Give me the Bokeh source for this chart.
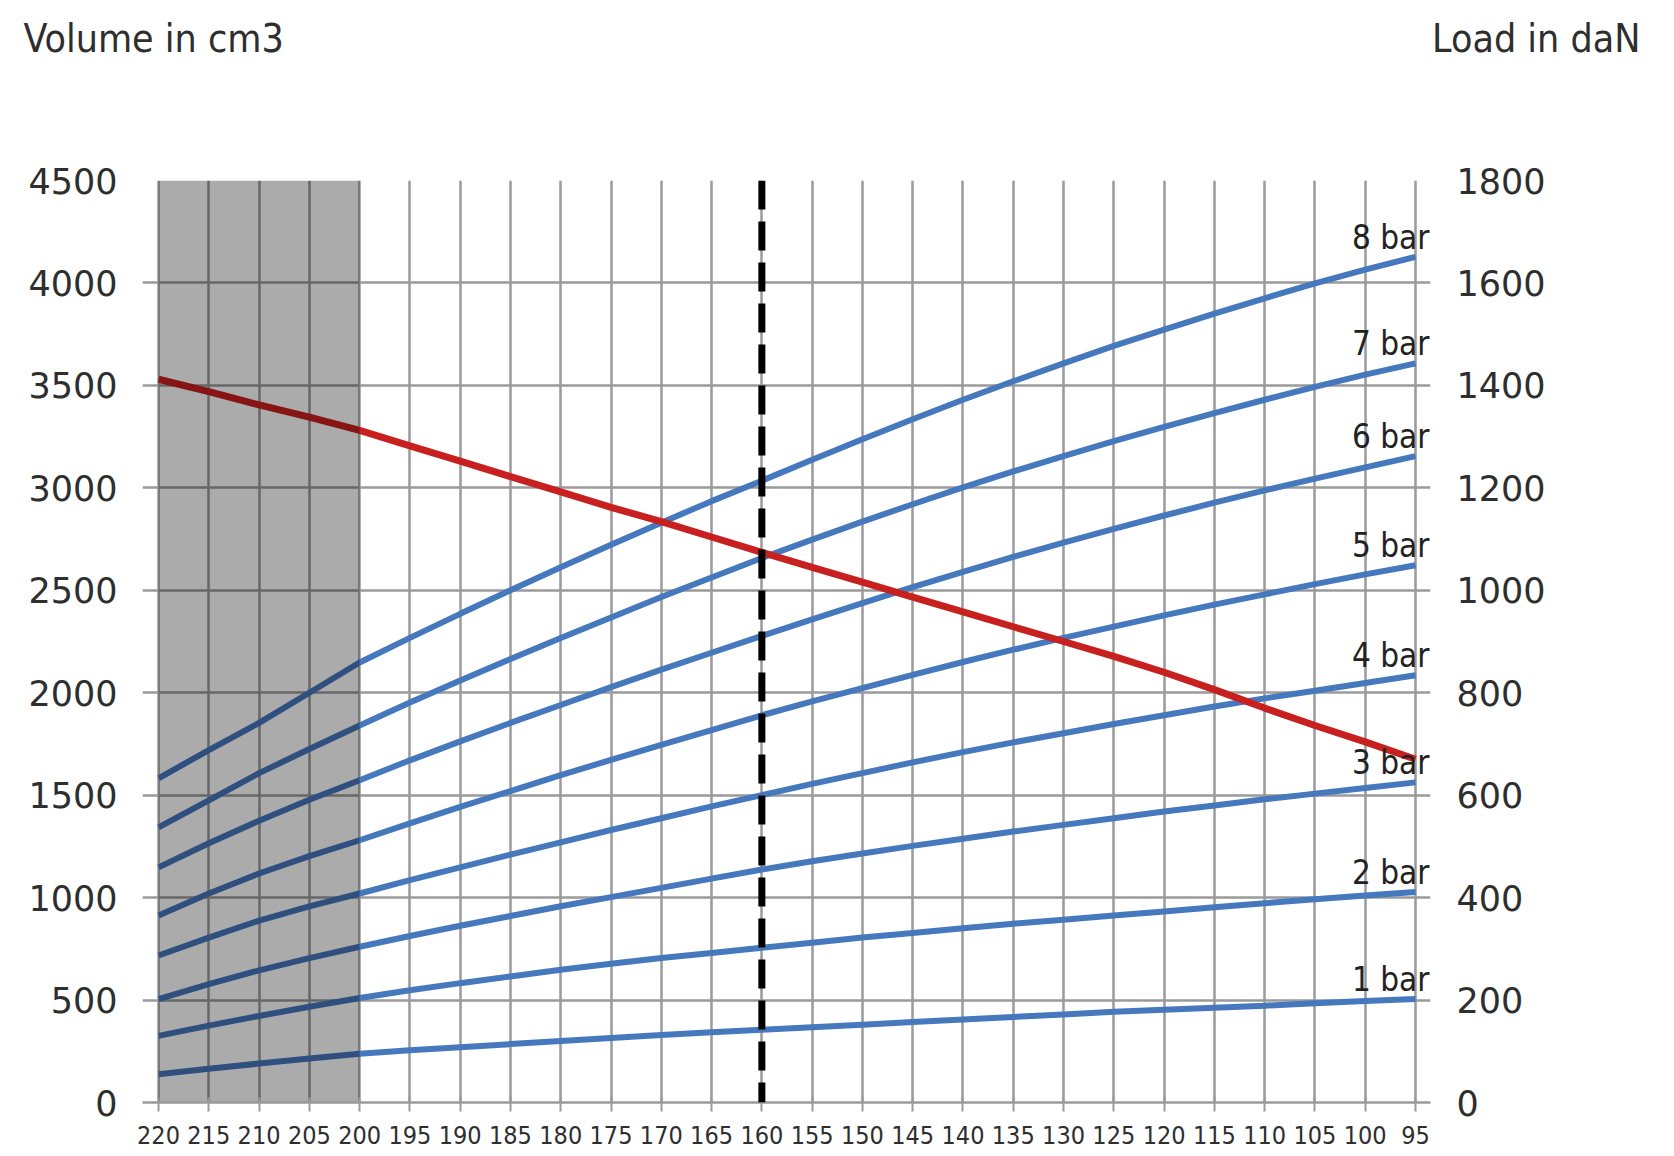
from bokeh.plotting import figure
from bokeh.layouts import column
from bokeh.models import Range1d, LinearAxis, FixedTicker, Span, Label, LabelSet, ColumnDataSource
from bokeh.embed import file_html
from bokeh.resources import INLINE
from bokeh.core.properties import value

# ---------------- data ----------------
stroke = [220, 215, 210, 205, 200, 195, 190, 185, 180, 175, 170, 165, 160,
          155, 150, 145, 140, 135, 130, 125, 120, 115, 110, 105, 100, 95]

volume_cm3 = [3530, 3470, 3405, 3345, 3280, 3205, 3130, 3055, 2980, 2905, 2835, 2760, 2685,
              2612, 2540, 2467, 2395, 2322, 2250, 2177, 2100, 2015, 1925, 1840, 1760, 1675]

load_1bar = [55, 66, 76, 86, 95, 102, 108, 114, 120, 126, 132, 137, 142,
             147, 152, 157, 162, 167, 172, 177, 181, 185, 189, 194, 198, 202]
load_2bar = [130, 150, 169, 187, 204, 219, 233, 246, 259, 271, 282, 292, 302,
             312, 322, 331, 340, 349, 357, 365, 373, 381, 389, 397, 404, 411]
load_3bar = [202, 231, 258, 282, 304, 325, 345, 364, 383, 401, 419, 437, 455,
             471, 486, 501, 515, 529, 542, 555, 568, 580, 592, 603, 614, 625]
load_4bar = [287, 322, 355, 383, 408, 434, 459, 484, 508, 532, 555, 578, 600,
             622, 643, 664, 684, 703, 721, 739, 756, 773, 789, 804, 819, 834]
load_5bar = [365, 408, 447, 481, 512, 545, 577, 608, 639, 669, 698, 727, 756,
             783, 809, 835, 860, 884, 907, 929, 951, 972, 992, 1012, 1031, 1049]
load_6bar = [459, 506, 550, 591, 629, 668, 705, 741, 776, 811, 845, 878, 911,
             943, 975, 1006, 1036, 1065, 1093, 1120, 1146, 1171, 1195, 1218, 1240, 1262]
load_7bar = [537, 590, 643, 690, 736, 781, 824, 866, 907, 947, 987, 1025, 1063,
             1099, 1134, 1168, 1201, 1232, 1262, 1291, 1319, 1346, 1372, 1397, 1421, 1443]
load_8bar = [633, 688, 741, 800, 859, 907, 954, 1000, 1045, 1089, 1132, 1174, 1214,
             1255, 1295, 1334, 1372, 1408, 1443, 1477, 1509, 1540, 1570, 1599, 1626, 1651]

bar_names = ["1 bar", "2 bar", "3 bar", "4 bar", "5 bar", "6 bar", "7 bar", "8 bar"]
load_series = [load_1bar, load_2bar, load_3bar, load_4bar,
               load_5bar, load_6bar, load_7bar, load_8bar]

x_ticks = [220, 215, 210, 205, 200, 195, 190, 185, 180, 175, 170, 165, 160,
           155, 150, 145, 140, 135, 130, 125, 120, 115, 110, 105, 100, 95]
volume_ticks = [0, 500, 1000, 1500, 2000, 2500, 3000, 3500, 4000, 4500]
load_ticks = [0, 200, 400, 600, 800, 1000, 1200, 1400, 1600, 1800]

left_title = "Volume in cm3"
right_title = "Load in daN"

shaded_from, shaded_to = 220, 200
marked_stroke = 160

# ---------------- style / layout ----------------
GRID = "#9a9a9a"
BLUE = "#4678be"
RED = "#c8201e"
TEXT = "#2e2e2e"
NUM_FONT = "DejaVu Sans"
COND_FONT = "DejaVu Sans Condensed"

W, H = 1674, 1156
TOP_H = 80                      # strip holding the two axis titles
PX_220, PX_95 = 158, 1415       # pixel positions of stroke 220 and 95
EXT_L, EXT_R = 16, 15           # gridlines run a little past the data edges
FRAME_T, FRAME_B = 180, 1102

units_per_px = (stroke[0] - stroke[-1]) / (PX_95 - PX_220)
x_start = stroke[0] + EXT_L * units_per_px
x_end = stroke[-1] - EXT_R * units_per_px
FRAME_L, FRAME_R = PX_220 - EXT_L, PX_95 + EXT_R

# --- title strip ---
top = figure(width=W, height=TOP_H, x_range=Range1d(0, W), y_range=Range1d(TOP_H, 0),
             x_axis_type=None, y_axis_type=None, output_backend="svg",
             toolbar_location=None, min_border=0,
             min_border_left=0, min_border_right=0, min_border_top=0, min_border_bottom=0,
             background_fill_color="white", border_fill_color="white")
top.outline_line_color = None
top.grid.visible = False
try:
    top.frame_align = False
except Exception:
    pass
top.add_layout(Label(x=23, y=38, text=left_title, text_font=COND_FONT,
                     text_font_size="39px", text_color=TEXT,
                     text_baseline="middle", text_align="left"))
top.add_layout(Label(x=1640, y=38, text=right_title, text_font=COND_FONT,
                     text_font_size="39px", text_color=TEXT,
                     text_baseline="middle", text_align="right"))

# --- main chart ---
p = figure(width=W, height=H - TOP_H,
           x_range=Range1d(x_start, x_end),
           y_range=Range1d(volume_ticks[0], volume_ticks[-1]),
           output_backend="svg", toolbar_location=None,
           min_border_left=FRAME_L, min_border_right=W - FRAME_R,
           min_border_top=FRAME_T - TOP_H, min_border_bottom=H - FRAME_B,
           background_fill_color="white", border_fill_color="white")
p.outline_line_color = None
p.extra_y_ranges = {"load": Range1d(load_ticks[0], load_ticks[-1])}
try:
    p.frame_align = False
except Exception:
    pass

xt = FixedTicker(ticks=x_ticks)
yt = FixedTicker(ticks=volume_ticks)
p.xaxis.ticker = xt
p.yaxis.ticker = yt
p.xgrid.ticker = xt
p.ygrid.ticker = yt

right = LinearAxis(y_range_name="load", ticker=FixedTicker(ticks=load_ticks))
p.add_layout(right, "right")

for ax, st in [(p.yaxis[0], 25), (right, 26)]:
    ax.axis_line_color = None
    ax.major_tick_line_color = None
    ax.major_tick_out = 0
    ax.major_tick_in = 0
    ax.minor_tick_line_color = None
    ax.major_label_text_font = NUM_FONT
    ax.major_label_text_font_size = "35px"
    ax.major_label_text_color = TEXT
    ax.major_label_standoff = st

xa = p.xaxis[0]
xa.axis_line_color = GRID
xa.axis_line_width = 2.5
xa.major_tick_in = 5
xa.major_tick_out = 9
xa.major_tick_line_color = GRID
xa.major_tick_line_width = 2
xa.minor_tick_line_color = None
xa.major_label_text_font = COND_FONT
xa.major_label_text_font_size = "25px"
xa.major_label_text_color = TEXT
xa.major_label_standoff = 14

for g in (p.xgrid[0], p.ygrid[0]):
    g.grid_line_color = GRID
    g.grid_line_width = 2.5

# blue load curves
for ys in load_series:
    p.line(stroke, ys, y_range_name="load", line_color=BLUE, line_width=6)

# red volume curve
p.line(stroke, volume_cm3, line_color=RED, line_width=7)

# shaded (darkening) region on top of the curves
p.quad(left=[shaded_from], right=[shaded_to],
       bottom=[volume_ticks[0]], top=[volume_ticks[-1]],
       fill_color="black", fill_alpha=0.33, line_color=None)

# dashed marker
p.add_layout(Span(location=marked_stroke, dimension="height", line_color="black",
                  line_width=7, line_dash="29 12"))

# bar labels at the curve ends
lab_src = ColumnDataSource(dict(x=[stroke[-1]] * len(bar_names),
                                y=[s[-1] for s in load_series],
                                t=bar_names))
p.add_layout(LabelSet(x="x", y="y", text="t", source=lab_src, y_range_name="load",
                      text_font=value(COND_FONT), text_font_size="33px",
                      text_color="#222222", text_align="right",
                      text_baseline="alphabetic", x_offset=14, y_offset=8))

layout = column(top, p, spacing=0)
open("out.html", "w").write(file_html(layout, INLINE))
